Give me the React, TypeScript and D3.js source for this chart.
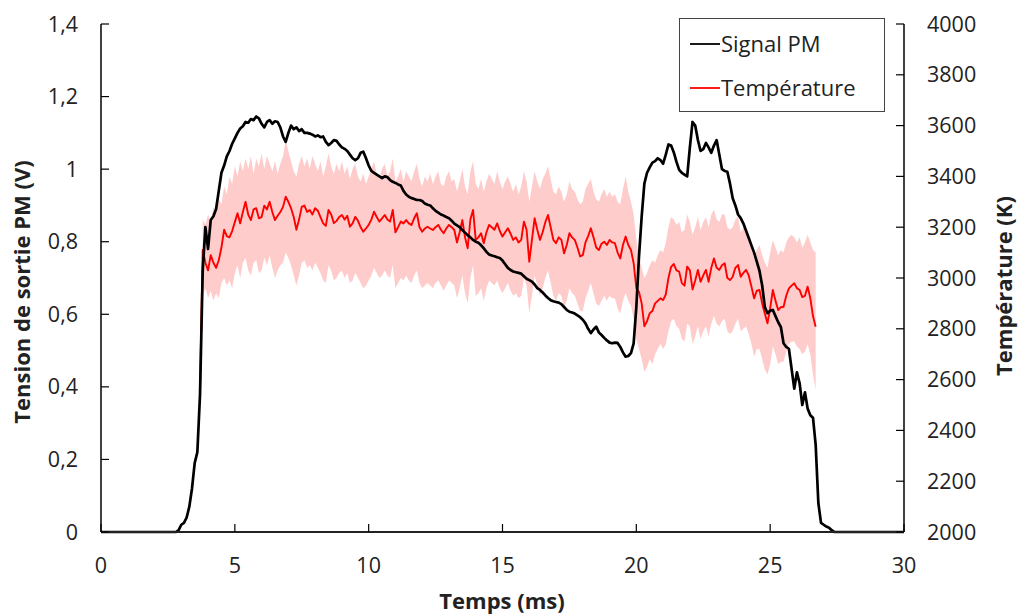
import React from 'react';
import * as d3 from 'd3';

// ---------- data ----------
const X_TICKS = [0, 5, 10, 15, 20, 25, 30];
const V_TICKS = [0, 0.2, 0.4, 0.6, 0.8, 1, 1.2, 1.4];
const T_TICKS = [2000, 2200, 2400, 2600, 2800, 3000, 3200, 3400, 3600, 3800, 4000];

// Signal PM (V), sampled every 0.1 ms from 0 ms
const PM_START = 0;
const PM_STEP = 0.1;
const pmVolt = [
  0, 0, 0, 0, 0, 0, 0, 0, 0, 0,
  0, 0, 0, 0, 0, 0, 0, 0, 0, 0,
  0, 0, 0, 0, 0, 0, 0, 0, 0, 0.005,
  0.02, 0.025, 0.04, 0.07, 0.12, 0.19, 0.22, 0.38, 0.72, 0.84,
  0.78, 0.86, 0.87, 0.89, 0.94, 0.99, 1.01, 1.035, 1.05, 1.07,
  1.085, 1.1, 1.112, 1.118, 1.13, 1.128, 1.138, 1.135, 1.145, 1.14,
  1.125, 1.115, 1.13, 1.135, 1.125, 1.132, 1.13, 1.115, 1.09, 1.075,
  1.1, 1.12, 1.11, 1.115, 1.105, 1.11, 1.1, 1.1, 1.098, 1.095,
  1.09, 1.093, 1.088, 1.09, 1.075, 1.066, 1.072, 1.08, 1.078, 1.068,
  1.06, 1.056, 1.05, 1.04, 1.03, 1.025, 1.03, 1.045, 1.048, 1.03,
  1.01, 0.995, 0.99, 0.985, 0.98, 0.975, 0.98, 0.978, 0.97, 0.965,
  0.962, 0.958, 0.955, 0.94, 0.93, 0.924, 0.92, 0.918, 0.915, 0.915,
  0.912, 0.905, 0.902, 0.9, 0.892, 0.885, 0.88, 0.875, 0.872, 0.868,
  0.865, 0.858, 0.85, 0.845, 0.84, 0.832, 0.825, 0.818, 0.812, 0.805,
  0.8, 0.797, 0.79, 0.782, 0.772, 0.765, 0.762, 0.76, 0.757, 0.755,
  0.748, 0.738, 0.728, 0.722, 0.718, 0.716, 0.714, 0.712, 0.705, 0.698,
  0.694, 0.69, 0.682, 0.672, 0.667, 0.66, 0.652, 0.645, 0.639, 0.636,
  0.634, 0.632, 0.628, 0.62, 0.612, 0.607, 0.605, 0.602, 0.597, 0.592,
  0.585, 0.575, 0.56, 0.548, 0.558, 0.566, 0.55, 0.543, 0.535, 0.528,
  0.522, 0.52, 0.522, 0.521, 0.51, 0.495, 0.483, 0.485, 0.493, 0.52,
  0.62, 0.76, 0.87, 0.96, 0.99, 1.005, 1.018, 1.022, 1.03, 1.025,
  1.015, 1.04, 1.068, 1.065, 1.046, 1.02, 0.998, 0.99, 0.985, 0.98,
  1.06, 1.13, 1.12, 1.08, 1.05, 1.055, 1.072, 1.06, 1.045, 1.065,
  1.08, 1.04, 1.0, 0.995, 0.993, 0.96, 0.92, 0.9, 0.875, 0.865,
  0.85, 0.83, 0.81, 0.79, 0.77, 0.745, 0.72, 0.68, 0.62, 0.603,
  0.61, 0.612, 0.595, 0.578, 0.565, 0.52, 0.51, 0.505, 0.45, 0.395,
  0.44, 0.41, 0.35, 0.385, 0.34, 0.322, 0.315, 0.24, 0.08, 0.025,
  0.02, 0.015, 0.012, 0.005, 0, 0, 0, 0, 0, 0,
  0, 0, 0, 0, 0, 0, 0, 0, 0, 0,
  0, 0, 0, 0, 0, 0, 0, 0, 0, 0,
  0,
];

// Température (K), sampled every 0.1 ms from 3.7 ms
const TEMP_START = 3.7;
const TEMP_STEP = 0.1;
const tempK = [
  2560, 3110, 3060,
  3030, 3090, 3060, 3040, 3070, 3120, 3190, 3165, 3160, 3185,
  3220, 3255, 3215, 3260, 3300, 3250, 3228, 3270, 3275, 3235,
  3240, 3285, 3270, 3300, 3260, 3228, 3245, 3260, 3280, 3320,
  3300, 3275, 3240, 3190, 3230, 3280, 3285, 3260, 3268, 3250,
  3275, 3265, 3240, 3215, 3205, 3268, 3250, 3216, 3225, 3240,
  3248, 3230, 3245, 3202, 3215, 3241, 3225, 3200, 3182, 3195,
  3209, 3230, 3261, 3240, 3222, 3235, 3248, 3230, 3222, 3268,
  3180, 3200, 3222, 3215, 3228, 3215, 3209, 3235, 3255, 3200,
  3182, 3195, 3202, 3195, 3189, 3200, 3209, 3190, 3176, 3195,
  3209, 3200, 3189, 3140, 3180, 3228, 3160, 3117, 3230, 3268,
  3150, 3160, 3176, 3137, 3180, 3209, 3200, 3190, 3215, 3185,
  3163, 3180, 3196, 3175, 3150, 3160, 3140, 3150, 3222, 3190,
  3064, 3150, 3235, 3190, 3150, 3180, 3220, 3248, 3200, 3150,
  3137, 3160, 3150, 3097, 3130, 3176, 3160, 3150, 3120, 3085,
  3090, 3140, 3165, 3196, 3160, 3120, 3110, 3135, 3143, 3130,
  3150, 3140, 3137, 3100, 3077, 3130, 3163, 3130, 3110, 3058,
  2960, 2945, 2900, 2810, 2830, 2861, 2870, 2900, 2910, 2920,
  2913, 2935, 3000, 3044, 3055, 3030, 3025, 2980, 2970, 3045,
  3030, 2955, 2990, 3032, 2985, 3010, 3032, 2985, 3040, 3077,
  3040, 3032, 3050, 3058, 3000, 2992, 3005, 3040, 3051, 3005,
  3020, 3032, 3010, 2966, 2920, 2950, 2953, 2900, 2860, 2822,
  2880, 2953, 2910, 2874, 2885, 2887, 2930, 2959, 2970, 2979,
  2960, 2953, 2925, 2930, 2966, 2920, 2850, 2808,
];

// Uncertainty band (K), sampled every 0.1 ms from 3.8 ms
const BAND_START = 3.8;
const BAND_STEP = 0.1;
const bandUpper = [
  3230, 3210,
  3250, 3220, 3280, 3260, 3310, 3290, 3360, 3330, 3400, 3370,
  3440, 3400, 3460, 3420, 3470, 3430, 3480, 3410, 3470, 3440,
  3490, 3430, 3480, 3450, 3420, 3460, 3410, 3450, 3480, 3540,
  3500, 3460, 3420, 3400, 3450, 3480, 3440, 3470, 3430, 3480,
  3450, 3420, 3460, 3400, 3440, 3490, 3440, 3410, 3450, 3420,
  3460, 3410, 3440, 3390, 3430, 3450, 3400, 3380, 3410, 3370,
  3400, 3430, 3460, 3410, 3390, 3430, 3450, 3400, 3420, 3470,
  3380, 3400, 3430, 3380, 3420, 3400, 3380, 3420, 3450, 3390,
  3360, 3400, 3380, 3410, 3370, 3400, 3420, 3370, 3360, 3400,
  3420, 3380, 3390, 3340, 3380, 3430, 3360, 3330, 3420, 3460,
  3370, 3350, 3390, 3340, 3380, 3410, 3390, 3370, 3420, 3380,
  3350, 3380, 3400, 3370, 3340, 3370, 3330, 3360, 3420, 3380,
  3300, 3360, 3420, 3380, 3350, 3390, 3410, 3440, 3390, 3340,
  3330, 3360, 3340, 3300, 3330, 3380, 3350, 3340, 3310, 3290,
  3300, 3350, 3370, 3390, 3340, 3310, 3300, 3330, 3350, 3320,
  3340, 3320, 3330, 3300, 3290, 3350, 3400, 3340, 3300, 3250,
  3150, 3080, 3040, 3000, 3020, 3050, 3070, 3060, 3090, 3110,
  3100, 3140, 3200, 3240, 3230, 3210, 3220, 3180, 3190, 3250,
  3220, 3170, 3200, 3240, 3190, 3220, 3240, 3200, 3250, 3270,
  3230, 3220, 3250, 3250, 3200, 3190, 3200, 3230, 3240, 3180,
  3200, 3190, 3160, 3120, 3080, 3110, 3130, 3090, 3060, 3040,
  3100, 3150, 3120, 3090, 3110, 3100, 3140, 3160, 3170, 3160,
  3140, 3160, 3120, 3140, 3170, 3140, 3110, 3100,
];
const bandLower = [
  2930, 2960,
  2920, 2950, 2910, 2940, 2920, 2980, 3000, 2970, 2990, 2960,
  3020, 3050, 3000, 3060, 3080, 3030, 3010, 3060, 3070, 3020,
  3030, 3080, 3050, 3090, 3040, 3000, 3030, 3050, 3060, 3100,
  3080, 3050, 3010, 2970, 3010, 3060, 3070, 3040, 3050, 3030,
  3060, 3040, 3020, 2990, 2980, 3050, 3030, 2990, 3000, 3020,
  3030, 3000, 3020, 2980, 2990, 3020, 3000, 2980, 2960, 2970,
  2990, 3010, 3040, 3020, 3000, 3010, 3030, 3010, 3000, 3050,
  2960, 2980, 3000, 2990, 3010, 2990, 2980, 3010, 3030, 2980,
  2960, 2970, 2980, 2970, 2960, 2980, 2990, 2970, 2950, 2970,
  2990, 2980, 2970, 2920, 2960, 3010, 2940, 2900, 3000, 3050,
  2930, 2940, 2960, 2910, 2960, 2990, 2980, 2970, 2990, 2960,
  2940, 2960, 2980, 2950, 2930, 2940, 2920, 2930, 3000, 2970,
  2860, 2930, 3010, 2970, 2930, 2960, 3000, 3030, 2980, 2930,
  2910, 2940, 2930, 2880, 2910, 2960, 2940, 2930, 2900, 2870,
  2870, 2920, 2950, 2980, 2940, 2900, 2890, 2910, 2930, 2910,
  2930, 2920, 2920, 2880, 2860, 2910, 2940, 2910, 2890, 2840,
  2760, 2720, 2680, 2630, 2650, 2680, 2660, 2700, 2720, 2740,
  2720, 2740, 2790, 2830, 2840, 2810, 2800, 2760, 2750, 2820,
  2810, 2740, 2770, 2810, 2760, 2790, 2810, 2770, 2820, 2850,
  2820, 2810, 2830, 2840, 2790, 2780, 2790, 2820, 2840, 2790,
  2800, 2810, 2780, 2740, 2690, 2720, 2720, 2680, 2640, 2620,
  2660, 2730, 2700, 2660, 2670, 2670, 2710, 2740, 2750, 2750,
  2730, 2720, 2700, 2710, 2740, 2700, 2620, 2560,
];

const LEGEND = ['Signal PM', 'Température'];
const X_TITLE = 'Temps (ms)';
const Y_TITLE = 'Tension de sortie PM (V)';
const Y2_TITLE = 'Température (K)';

// ---------- layout ----------
const W = 1019;
const H = 614;
const PL = 101, PR = 904, PT = 24, PB = 532;
const FONT = '"Open Sans", "DejaVu Sans", sans-serif';
const TICK_FS = 21.5;

export default function App() {
  const x = d3.scaleLinear().domain([0, 30]).range([PL, PR]);
  const yV = d3.scaleLinear().domain([0, 1.4]).range([PB, PT]);
  const yT = d3.scaleLinear().domain([2000, 4000]).range([PB, PT]);

  const pmLine = d3.line<number>()
    .x((_, i) => x(PM_START + i * PM_STEP))
    .y((v) => yV(v));
  const tLine = d3.line<number>()
    .x((_, i) => x(TEMP_START + i * TEMP_STEP))
    .y((v) => yT(v));
  const band = d3.area<number>()
    .x((_, i) => x(BAND_START + i * BAND_STEP))
    .y0((_, i) => yT(bandLower[i]))
    .y1((v) => yT(v));

  const fmtV = (v: number) => String(v).replace('.', ',');
  const axisColor = '#000';

  return (
    <svg width={W} height={H} style={{ position: 'absolute', left: 0, top: 0, background: '#fff' }}
      fontFamily={FONT}>
      <rect x={0} y={0} width={W} height={H} fill="#fff" />
      {/* band */}
      <path d={band(bandUpper) || ''} fill="#ffcccc" stroke="none" />
      {/* temperature */}
      <path d={tLine(tempK) || ''} fill="none" stroke="#ff0000" strokeWidth={1.9} strokeLinejoin="round" />
      {/* PM signal */}
      <path d={pmLine(pmVolt) || ''} fill="none" stroke="#000" strokeWidth={2.7} strokeLinejoin="round" />

      {/* axes lines */}
      <line x1={PL} x2={PL} y1={PT} y2={PB} stroke={axisColor} strokeWidth={1.5} />
      <line x1={PR} x2={PR} y1={PT} y2={PB} stroke={axisColor} strokeWidth={1.5} />
      <line x1={PL} x2={PR} y1={PB} y2={PB} stroke="#222" strokeWidth={2} />

      {/* left ticks */}
      {V_TICKS.map((v) => (
        <g key={'v' + v}>
          <line x1={PL} x2={PL + 8} y1={yV(v)} y2={yV(v)} stroke={axisColor} strokeWidth={1.2} />
          <text x={78} y={yV(v)} dy="0.35em" textAnchor="end" fontSize={TICK_FS} fill="#222">{fmtV(v)}</text>
        </g>
      ))}
      {/* right ticks */}
      {T_TICKS.map((t) => (
        <g key={'t' + t}>
          <line x1={PR - 8} x2={PR} y1={yT(t)} y2={yT(t)} stroke={axisColor} strokeWidth={1.2} />
          <text x={927} y={yT(t)} dy="0.35em" textAnchor="start" fontSize={TICK_FS} fill="#222">{t}</text>
        </g>
      ))}
      {/* bottom ticks */}
      {X_TICKS.map((t) => (
        <g key={'x' + t}>
          <line x1={x(t)} x2={x(t)} y1={PB} y2={PB - 8} stroke={axisColor} strokeWidth={1.2} />
          <text x={x(t)} y={565} dy="0.35em" textAnchor="middle" fontSize={TICK_FS} fill="#222">{t}</text>
        </g>
      ))}

      {/* titles */}
      <text x={502} y={601} dy="0.35em" textAnchor="middle" fontSize={22} fontWeight="bold" fill="#222">{X_TITLE}</text>
      <text transform={`translate(22,${(PT + PB) / 2 + 14}) rotate(-90)`} dy="0.35em" textAnchor="middle" fontSize={22} fontWeight="bold" fill="#222">{Y_TITLE}</text>
      <text transform={`translate(1004,${(PT + PB) / 2 + 8}) rotate(-90)`} dy="0.35em" textAnchor="middle" fontSize={22} fontWeight="bold" fill="#222">{Y2_TITLE}</text>

      {/* legend */}
      <rect x={679.5} y={18.5} width={205} height={93} fill="#fff" stroke="#444" strokeWidth={1} />
      <line x1={690} x2={720} y1={44} y2={44} stroke="#000" strokeWidth={1.8} />
      <text x={721} y={44} dy="0.35em" fontSize={22} fill="#222">{LEGEND[0]}</text>
      <line x1={690} x2={720} y1={88} y2={88} stroke="#ff0000" strokeWidth={1.8} />
      <text x={721} y={88} dy="0.35em" fontSize={22} fill="#222">{LEGEND[1]}</text>
    </svg>
  );
}
